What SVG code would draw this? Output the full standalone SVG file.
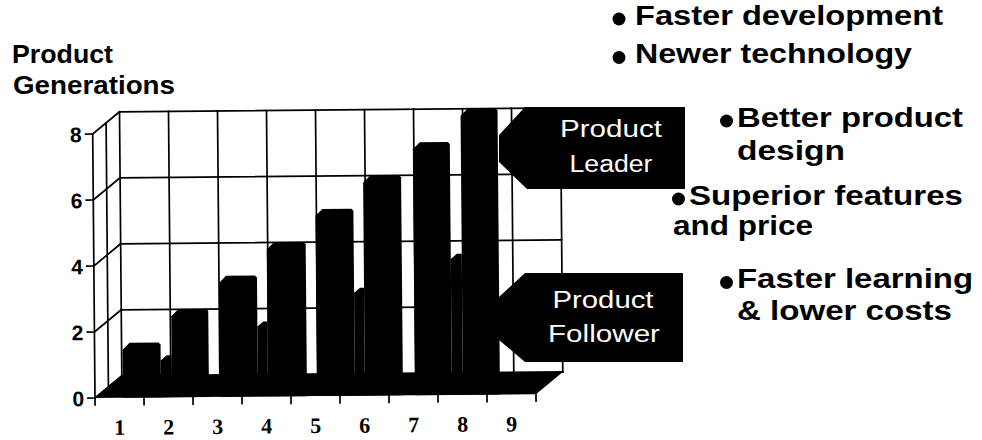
<svg xmlns="http://www.w3.org/2000/svg" width="982" height="440" viewBox="0 0 982 440">
<style>
.bg{fill:#ffffff}
.grid{stroke:#000;stroke-width:1.7;fill:none;stroke-linecap:square}
.blk{fill:#000}
.title{font-family:"Liberation Sans",Arial,sans-serif;font-weight:bold;font-size:25px;fill:#000}
.ylab{font-family:"Liberation Sans",Arial,sans-serif;font-weight:bold;font-size:21px;fill:#000;text-anchor:end}
.xlab{font-family:"Liberation Serif","Times New Roman",serif;font-weight:bold;font-size:22px;fill:#000;text-anchor:middle}
.call{font-family:"Liberation Sans",Arial,sans-serif;font-size:23px;fill:#fff;text-anchor:middle}
.bul{font-family:"Liberation Sans",Arial,sans-serif;font-weight:bold;font-size:27px;fill:#000}
</style>
<rect class="bg" x="0" y="0" width="982" height="440"/>

<g id="axis-title">
<text class="title" x="12" y="63" textLength="101" lengthAdjust="spacingAndGlyphs">Product</text>
<text class="title" x="13" y="94" textLength="162" lengthAdjust="spacingAndGlyphs">Generations</text>
</g>

<g id="chart" transform="rotate(-0.5 95 398)">
<g id="grid">
<path class="grid" d="M122 112V376M171 112V376M220 112V376M269 112V376M318 112V376M367 112V376M416 112V376M465 112V376M514 112V376M563 112V376"/>
<path class="grid" d="M122 112H563M122 178H563M122 244H563M122 310H563M122 376H563"/>
<path class="grid" d="M95 134V398M108.5 123V387M95 398L122 376M95 332L122 310M95 266L122 244M95 200L122 178M95 134L122 112"/>
<path class="grid" d="M88 398H95M88 332H95M88 266H95M88 200H95M88 134H95"/>
<path class="grid" d="M95 398V405M144 398V405M193 398V405M242 398V405M291 398V405M340 398V405M389 398V405M438 398V405M487 398V405M536 398V405"/>
</g>
<g id="y-labels">
<text class="ylab" x="84" y="406">0</text>
<text class="ylab" x="84" y="340">2</text>
<text class="ylab" x="84" y="274">4</text>
<text class="ylab" x="84" y="208">6</text>
<text class="ylab" x="84" y="142">8</text>
</g>
<g id="x-labels">
<text class="xlab" x="119.5" y="435">1</text>
<text class="xlab" x="168.5" y="435">2</text>
<text class="xlab" x="217.5" y="435">3</text>
<text class="xlab" x="266.5" y="435">4</text>
<text class="xlab" x="315.5" y="435">5</text>
<text class="xlab" x="364.5" y="435">6</text>
<text class="xlab" x="413.5" y="435">7</text>
<text class="xlab" x="462.5" y="435">8</text>
<text class="xlab" x="511.5" y="435">9</text>
</g>
<g id="floor">
<polygon class="blk" points="95,398 536,398 563,376 122,376"/>
</g>
<g id="followers">
<polygon class="blk" points="161,361 167,356 172,356 172,398 161,398"/>
<polygon class="blk" points="258,328 264,323 268,323 268,398 258,398"/>
<polygon class="blk" points="355,295 361,290 365,290 365,398 355,398"/>
<polygon class="blk" points="452,262 458,257 463,257 463,398 452,398"/>
</g>
<g id="leaders">
<polygon class="blk" points="123,350 130,343 159,343 161,345 161,398 123,398"/>
<polygon class="blk" points="172,317 179,310 207,310 209,312 209,398 172,398"/>
<polygon class="blk" points="220,284 227,277 256,277 258,279 258,398 220,398"/>
<polygon class="blk" points="268,251 275,244 305,244 307,246 307,398 268,398"/>
<polygon class="blk" points="317,218 324,211 353,211 355,213 355,398 317,398"/>
<polygon class="blk" points="365,185 372,178 401,178 403,180 403,398 365,398"/>
<polygon class="blk" points="415,152 422,145 450,145 452,147 452,398 415,398"/>
<polygon class="blk" points="463,119 470,112 498,112 500,114 500,398 463,398"/>
</g>
</g>

<g id="leader">
<polygon class="blk" points="525,107 685,107 685,189 527,189 499,162 499,135"/>
<text class="call" x="611" y="137" textLength="102" lengthAdjust="spacingAndGlyphs">Product</text>
<text class="call" x="611" y="172" textLength="83" lengthAdjust="spacingAndGlyphs">Leader</text>
</g>

<g id="follower">
<polygon class="blk" points="525,273 683,273 683,362 525,362 499,340 499,297"/>
<text class="call" x="603" y="308" textLength="101" lengthAdjust="spacingAndGlyphs">Product</text>
<text class="call" x="604" y="342" textLength="112" lengthAdjust="spacingAndGlyphs">Follower</text>
</g>

<g id="benefits">
<g id="b1"><circle class="blk" cx="619" cy="19" r="6.5"/><text class="bul" x="635" y="25" textLength="308" lengthAdjust="spacingAndGlyphs">Faster development</text></g>
<g id="b2"><circle class="blk" cx="619" cy="57.5" r="6.5"/><text class="bul" x="635" y="63" textLength="277" lengthAdjust="spacingAndGlyphs">Newer technology</text></g>
<g id="b3"><circle class="blk" cx="726.5" cy="121" r="6.5"/><text class="bul" x="737" y="127" textLength="226" lengthAdjust="spacingAndGlyphs">Better product</text><text class="bul" x="737" y="160" textLength="108" lengthAdjust="spacingAndGlyphs">design</text></g>
<g id="b4"><circle class="blk" cx="678.5" cy="199" r="6.5"/><text class="bul" x="689" y="205" textLength="274" lengthAdjust="spacingAndGlyphs">Superior features</text><text class="bul" x="673" y="235" textLength="140" lengthAdjust="spacingAndGlyphs">and price</text></g>
<g id="b5"><circle class="blk" cx="726.5" cy="282.5" r="6.5"/><text class="bul" x="737" y="288" textLength="236" lengthAdjust="spacingAndGlyphs">Faster learning</text><text class="bul" x="737" y="320" textLength="215" lengthAdjust="spacingAndGlyphs">&amp; lower costs</text></g>
</g>
</svg>
